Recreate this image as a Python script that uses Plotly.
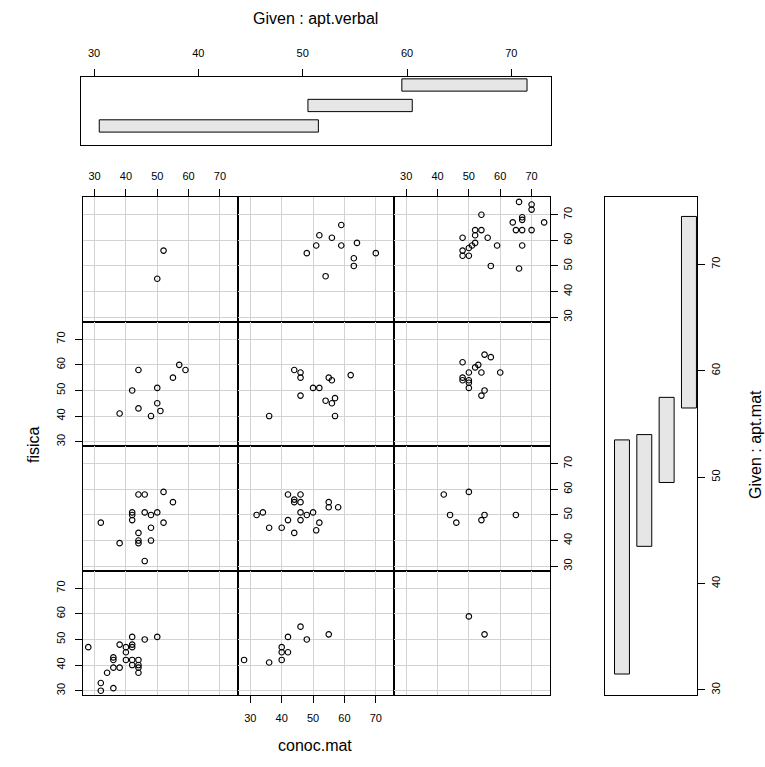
import plotly.graph_objects as go

# ---------------- data ----------------
# rows: apt.mat interval 4 (top) .. 1 (bottom); cols: apt.verbal interval 1..3
conoc_m4_v1 = [52, 50]
fisica_m4_v1 = [56, 45]
conoc_m4_v2 = [59, 52, 56, 51, 59, 64, 48, 70, 63, 63, 54]
fisica_m4_v2 = [66, 62, 61, 58, 58, 59, 55, 55, 53, 50, 46]
conoc_m4_v3 = [66, 70, 70, 54, 67, 67, 64, 74, 52, 54, 65, 67, 70, 52, 48, 56, 59, 67, 52, 51, 50, 48, 48, 50, 57, 66]
fisica_m4_v3 = [75, 74, 72, 70, 69, 68, 67, 67, 64, 64, 64, 64, 64, 62, 61, 61, 58, 58, 59, 58, 57, 56, 54, 54, 50, 49]

conoc_m3_v1 = [44, 57, 59, 55, 42, 50, 50, 44, 51, 48, 38]
fisica_m3_v1 = [58, 60, 58, 55, 50, 51, 45, 43, 42, 40, 41]
conoc_m3_v2 = [44, 46, 46, 55, 56, 62, 50, 52, 46, 54, 57, 56, 57, 36]
fisica_m3_v2 = [58, 57, 55, 55, 54, 56, 51, 51, 48, 46, 47, 45, 40, 40]
conoc_m3_v3 = [55, 57, 48, 53, 52, 50, 54, 60, 48, 48, 50, 50, 50, 55, 54]
fisica_m3_v3 = [64, 63, 61, 60, 59, 57, 57, 57, 55, 54, 54, 53, 51, 50, 48]

conoc_m2_v1 = [44, 46, 52, 55, 42, 42, 42, 46, 48, 50, 32, 52, 48, 44, 44, 44, 48, 38, 46]
fisica_m2_v1 = [58, 58, 59, 55, 51, 50, 48, 51, 50, 51, 47, 47, 45, 43, 40, 39, 40, 39, 32]
conoc_m2_v2 = [42, 46, 44, 44, 46, 55, 55, 58, 32, 34, 46, 48, 50, 42, 46, 52, 36, 40, 44, 51]
fisica_m2_v2 = [58, 58, 56, 55, 55, 55, 53, 53, 50, 51, 51, 50, 51, 48, 48, 47, 45, 45, 43, 44]
conoc_m2_v3 = [42, 50, 44, 46, 54, 55, 65]
fisica_m2_v3 = [58, 59, 50, 47, 48, 50, 50]

conoc_m1_v1 = [28, 32, 32, 36, 34, 36, 38, 36, 36, 38, 40, 40, 40, 42, 42, 42, 42, 42, 44, 44, 44, 44, 46, 50]
fisica_m1_v1 = [47, 33, 30, 31, 37, 39, 39, 42, 43, 48, 47, 45, 42, 51, 48, 47, 42, 40, 42, 40, 39, 37, 50, 51]
conoc_m1_v2 = [28, 36, 40, 40, 40, 42, 42, 46, 48, 55]
fisica_m1_v2 = [42, 41, 42, 45, 47, 45, 51, 55, 50, 52]
conoc_m1_v3 = [50, 55]
fisica_m1_v3 = [59, 52]

# conditioning intervals
verbal_lo = [30.5, 50.5, 59.5]
verbal_hi = [51.5, 60.5, 71.5]
mat_lo = [31.5, 43.5, 49.5, 56.5]
mat_hi = [53.5, 54.0, 57.5, 74.5]

axis_ticks = [30, 40, 50, 60, 70]

# ---------------- layout helpers ----------------
W, H = 765, 767
FONT = "Liberation Sans, Arial, sans-serif"


def dom_x(a, b):
    return [a / W, b / W]


def dom_y(top, bottom):
    return [1 - bottom / H, 1 - top / H]


def px(x):
    return x / W


def py(y):
    return 1 - y / H


col_edges = [82.5, 238.3, 394.1, 549.9]
row_edges = [197.3, 321.8, 446.3, 570.8, 695.3]

panels = [
    [(conoc_m4_v1, fisica_m4_v1), (conoc_m4_v2, fisica_m4_v2), (conoc_m4_v3, fisica_m4_v3)],
    [(conoc_m3_v1, fisica_m3_v1), (conoc_m3_v2, fisica_m3_v2), (conoc_m3_v3, fisica_m3_v3)],
    [(conoc_m2_v1, fisica_m2_v1), (conoc_m2_v2, fisica_m2_v2), (conoc_m2_v3, fisica_m2_v3)],
    [(conoc_m1_v1, fisica_m1_v1), (conoc_m1_v2, fisica_m1_v2), (conoc_m1_v3, fisica_m1_v3)],
]

fig = go.Figure()
layout = {}

X_RANGE = [26.16, 75.84]
Y_RANGE = [28.2, 76.8]
TICKFONT = dict(family=FONT, size=11, color="black")

k = 0
for r in range(4):
    for c in range(3):
        k += 1
        xs, ys = panels[r][c]
        xn = "x" if k == 1 else f"x{k}"
        yn = "y" if k == 1 else f"y{k}"
        xk = "xaxis" if k == 1 else f"xaxis{k}"
        yk = "yaxis" if k == 1 else f"yaxis{k}"
        fig.add_trace(go.Scatter(
            x=xs, y=ys, mode="markers", xaxis=xn, yaxis=yn,
            marker=dict(symbol="circle-open", size=5.5, color="black",
                        line=dict(width=1.1, color="black")),
            showlegend=False, hoverinfo="skip"))

        xa = dict(domain=dom_x(col_edges[c], col_edges[c + 1]), anchor=yn,
                  range=X_RANGE, tickvals=axis_ticks, showgrid=True,
                  gridcolor="#d3d3d3", gridwidth=1, zeroline=False,
                  showline=True, mirror=True, linecolor="black", linewidth=1,
                  tickfont=TICKFONT, ticklen=7, tickcolor="black", tickwidth=1,
                  ticklabelstandoff=5)
        if r == 0 and c in (0, 2):
            xa.update(side="top", ticks="outside", showticklabels=True)
        elif r == 3 and c == 1:
            xa.update(side="bottom", ticks="outside", showticklabels=True)
        else:
            xa.update(ticks="", showticklabels=False)

        ya = dict(domain=dom_y(row_edges[r], row_edges[r + 1]), anchor=xn,
                  range=Y_RANGE, tickvals=axis_ticks, showgrid=True,
                  gridcolor="#d3d3d3", gridwidth=1, zeroline=False,
                  showline=True, mirror=True, linecolor="black", linewidth=1,
                  tickfont=TICKFONT, ticklen=7, tickcolor="black", tickwidth=1,
                  tickangle=-90)
        if c == 0 and r in (1, 3):
            ya.update(side="left", ticks="outside", showticklabels=True,
                      ticklabelstandoff=5)
        elif c == 2 and r in (0, 2):
            ya.update(side="right", ticks="outside", showticklabels=True,
                      ticklabelstandoff=1)
        else:
            ya.update(ticks="", showticklabels=False)
        layout[xk] = xa
        layout[yk] = ya

# ---- given panel: apt.verbal (top) ----
fig.add_trace(go.Bar(
    orientation="h", y=[1, 2, 3],
    x=[h - l for l, h in zip(verbal_lo, verbal_hi)], base=verbal_lo,
    width=0.6, marker=dict(color="#e6e6e6", line=dict(color="black", width=1)),
    xaxis="x13", yaxis="y13", showlegend=False, hoverinfo="skip"))
layout["xaxis13"] = dict(domain=dom_x(81, 550.5), anchor="y13", side="top",
                         range=[28.75, 73.75], tickvals=axis_ticks, ticks="outside",
                         ticklen=7, tickcolor="black", showgrid=False, zeroline=False,
                         showline=True, mirror=True, linecolor="black", linewidth=1,
                         tickfont=TICKFONT, ticklabelstandoff=8)
layout["yaxis13"] = dict(domain=dom_y(77, 145), anchor="x13", range=[0.07, 3.39],
                         showticklabels=False, ticks="", showgrid=False, zeroline=False,
                         showline=True, mirror=True, linecolor="black", linewidth=1)

# ---- given panel: apt.mat (right) ----
fig.add_trace(go.Bar(
    x=[1, 2, 3, 4],
    y=[h - l for l, h in zip(mat_lo, mat_hi)], base=mat_lo,
    width=0.67, marker=dict(color="#e6e6e6", line=dict(color="black", width=1)),
    xaxis="x14", yaxis="y14", showlegend=False, hoverinfo="skip"))
layout["xaxis14"] = dict(domain=dom_x(605, 697), anchor="y14", range=[0.24, 4.36],
                         showticklabels=False, ticks="", showgrid=False, zeroline=False,
                         showline=True, mirror=True, linecolor="black", linewidth=1)
layout["yaxis14"] = dict(domain=dom_y(197.3, 695.3), anchor="x14", side="right",
                         range=[29.5, 76.3], tickvals=axis_ticks, ticks="outside",
                         ticklen=7, tickcolor="black", tickangle=-90, showgrid=False,
                         zeroline=False, showline=True, mirror=True, linecolor="black",
                         linewidth=1, tickfont=TICKFONT, ticklabelstandoff=2)

TITLEFONT = dict(family=FONT, size=16, color="black")
annotations = [
    dict(text="Given : apt.verbal", x=px(315), y=py(18)),
    dict(text="conoc.mat", x=px(315), y=py(745)),
    dict(text="fisica", x=px(33), y=py(445), textangle=-90),
    dict(text="Given : apt.mat", x=px(755), y=py(445), textangle=-90),
]
for a in annotations:
    a.update(xref="paper", yref="paper", showarrow=False, xanchor="center",
             yanchor="middle", font=TITLEFONT)

fig.update_layout(
    width=W, height=H, margin=dict(l=0, r=0, t=0, b=0),
    paper_bgcolor="white", plot_bgcolor="white", barmode="overlay",
    annotations=annotations, **layout)

fig.write_html(
    "out.html",
    config={"displayModeBar": False},
    post_script="document.body.style.margin='0';document.body.style.overflow='hidden';")
